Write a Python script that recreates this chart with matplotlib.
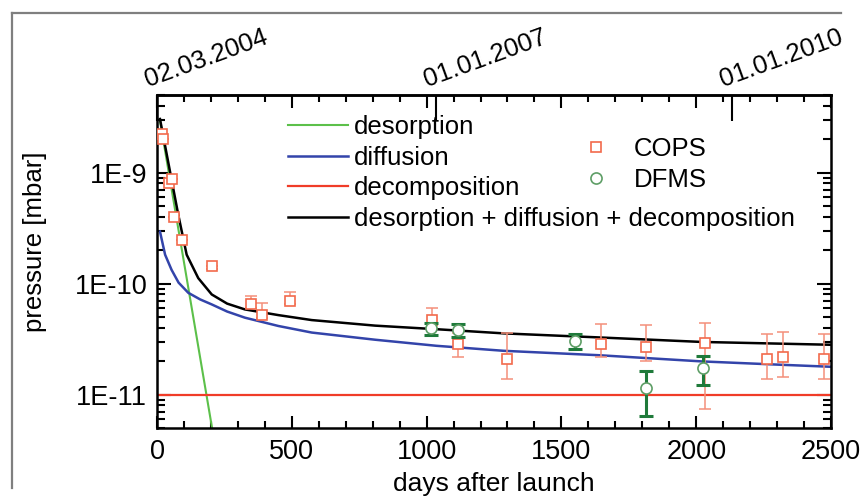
import matplotlib

matplotlib.use("Agg")

import matplotlib.pyplot as plt
import numpy as np
from matplotlib.lines import Line2D
from matplotlib.ticker import FixedLocator, LogLocator, MultipleLocator, NullFormatter

plt.rcParams["font.family"] = ["Liberation Sans", "DejaVu Sans"]

# model curves (days after launch, pressure in mbar)
desorption_days = [11, 215]
desorption_p = [2.94e-9, 3.5e-12]

diffusion_days = [11, 30, 54, 80, 116, 160, 203, 260, 326, 450, 574, 809, 1037, 1285, 1643, 2020, 2305, 2500]
diffusion_p = [2.94e-10, 1.82e-10, 1.33e-10, 1.02e-10, 8.26e-11, 7.2e-11, 6.49e-11, 5.6e-11, 4.93e-11,
               4.15e-11, 3.62e-11, 3.12e-11, 2.75e-11, 2.48e-11, 2.26e-11, 1.99e-11, 1.86e-11, 1.78e-11]

decomposition_days = [0, 2500]
decomposition_p = [1e-11, 1e-11]

total_days = [11, 40, 79, 110, 153, 203, 260, 326, 450, 574, 809, 1037, 1285, 1643, 2020, 2500]
total_p = [3.04e-9, 1.3e-9, 4.15e-10, 1.82e-10, 1.12e-10, 7.98e-11, 6.6e-11, 5.85e-11, 5.2e-11,
           4.69e-11, 4.18e-11, 3.88e-11, 3.56e-11, 3.27e-11, 2.98e-11, 2.81e-11]

# COPS measurements with error bar bounds
cops_days = [20, 22, 45, 54, 64, 92, 203, 349, 388, 493, 1019, 1115, 1299, 1647, 1813, 2033, 2261, 2323, 2475]
cops_p = [2.25e-9, 2.0e-9, 8.1e-10, 8.7e-10, 3.95e-10, 2.48e-10, 1.43e-10, 6.49e-11, 5.18e-11, 6.95e-11,
          4.67e-11, 2.84e-11, 2.09e-11, 2.88e-11, 2.69e-11, 2.94e-11, 2.09e-11, 2.16e-11, 2.09e-11]
cops_lo = [2.25e-9, 2.0e-9, 8.1e-10, 8.7e-10, 3.95e-10, 2.48e-10, 1.35e-10, 6.0e-11, 4.9e-11, 6.6e-11,
           4.2e-11, 2.16e-11, 1.38e-11, 2.19e-11, 1.99e-11, 7.35e-12, 1.38e-11, 1.45e-11, 1.38e-11]
cops_hi = [2.25e-9, 2.0e-9, 8.1e-10, 8.7e-10, 3.95e-10, 2.48e-10, 1.43e-10, 7.76e-11, 6.62e-11, 8.35e-11,
           5.97e-11, 3.6e-11, 3.56e-11, 4.36e-11, 4.21e-11, 4.45e-11, 3.55e-11, 3.64e-11, 3.55e-11]

# DFMS measurements with error bar bounds
dfms_days = [1016, 1115, 1550, 1813, 2026]
dfms_p = [3.96e-11, 3.79e-11, 3.04e-11, 1.15e-11, 1.73e-11]
dfms_lo = [3.44e-11, 3.3e-11, 2.56e-11, 6.41e-12, 1.23e-11]
dfms_hi = [4.45e-11, 4.3e-11, 3.55e-11, 1.64e-11, 2.23e-11]

date_days = [0, 1035, 2131]
date_labels = ["02.03.2004", "01.01.2007", "01.01.2010"]

y_ticks = [1e-11, 1e-10, 1e-9]
y_tick_labels = ["1E-11", "1E-10", "1E-9"]

FS = 18.5
TICK_FS = 19.5

fig = plt.figure(figsize=(8.67, 4.98), dpi=100)
ax = fig.add_axes([0.1811, 0.1406, 0.7774, 0.6686])

ax.plot(desorption_days, desorption_p, color="#5cc04a", lw=1.5, label="desorption", zorder=2)
ax.plot(diffusion_days, diffusion_p, color="#3344aa", lw=1.8, label="diffusion", zorder=2)
ax.plot(decomposition_days, decomposition_p, color="#f03c28", lw=1.6, label="decomposition", zorder=2)
ax.plot(total_days, total_p, color="black", lw=1.8,
        label="desorption + diffusion + decomposition", zorder=2)

cops_y = np.array(cops_p)
cops_err = [cops_y - np.array(cops_lo), np.array(cops_hi) - cops_y]
ax.errorbar(cops_days, cops_p, yerr=cops_err, fmt="none", ecolor="#f4907a", elinewidth=1.1,
            capsize=4.5, capthick=1.1, zorder=3)
cops_h, = ax.plot(cops_days, cops_p, ls="none", marker="s", ms=7.5, mfc="white", mec="#f26a4c",
                  mew=1.2, zorder=4, label="COPS")

dfms_y = np.array(dfms_p)
dfms_err = [dfms_y - np.array(dfms_lo), np.array(dfms_hi) - dfms_y]
ax.errorbar(dfms_days, dfms_p, yerr=dfms_err, fmt="none", ecolor="#1f7a3a", elinewidth=2.2,
            capsize=5, capthick=2.2, zorder=5)
dfms_h, = ax.plot(dfms_days, dfms_p, ls="none", marker="o", ms=8, mfc="white", mec="#5e9e66",
                  mew=1.2, zorder=6, label="DFMS")

ax.set_yscale("log")
ax.set_xlim(0, 2500)
ax.set_ylim(5e-12, 5e-9)

ax.xaxis.set_major_locator(MultipleLocator(500))
ax.xaxis.set_minor_locator(MultipleLocator(100))
ax.yaxis.set_major_locator(FixedLocator(y_ticks))
ax.yaxis.set_minor_locator(LogLocator(base=10, subs=np.arange(2, 10)))
ax.yaxis.set_minor_formatter(NullFormatter())
ax.set_yticks(y_ticks, y_tick_labels)

ax.tick_params(which="both", direction="in", top=True, right=True, width=1.5,
               labelsize=TICK_FS)
ax.tick_params(axis="x", which="major", length=9, pad=8)
ax.tick_params(axis="x", which="minor", length=5)
ax.tick_params(axis="y", which="major", length=10, pad=7)
ax.tick_params(axis="y", which="minor", length=6)
for spine in ax.spines.values():
    spine.set_linewidth(1.8)

# launch-date ticks on top
top = ax.secondary_xaxis("top")
top.set_xticks(date_days, ["", "", ""])
top.tick_params(direction="in", length=19, width=1.5)
top.xaxis.set_minor_locator(FixedLocator([]))
top.spines["top"].set_linewidth(1.8)
for day, label in zip(date_days, date_labels):
    ax.annotate(label, xy=(day, 1.0), xycoords=("data", "axes fraction"), xytext=(-9, 8),
                textcoords="offset pixels", rotation=20, rotation_mode="anchor",
                ha="left", va="baseline", fontsize=FS)

ax.set_xlabel("days after launch", fontsize=19, labelpad=5)
ax.set_ylabel("pressure [mbar]", fontsize=FS)
ax.yaxis.set_label_coords(-0.163, 0.56)

line_handles = ax.get_lines()[:4]
leg1 = ax.legend(handles=line_handles, loc="upper left", bbox_to_anchor=(0.194, 0.94),
                 frameon=False, fontsize=FS, handlelength=2.35, handletextpad=0.22,
                 labelspacing=0.26, borderpad=0, borderaxespad=0)
ax.add_artist(leg1)
ax.legend(handles=[cops_h, dfms_h], loc="upper left", bbox_to_anchor=(0.6365, 0.875),
          frameon=False, fontsize=FS, handlelength=0.8, handletextpad=1.05,
          labelspacing=0.3, borderpad=0, borderaxespad=0)

# grey frame lines around the figure (left and top edges only are visible)
frame_x = 11.5 / 867
frame_y = 1 - 13.5 / 498
fig.add_artist(Line2D([frame_x, frame_x], [0.02, frame_y], color="#7f7f7f", lw=1.6,
                      transform=fig.transFigure))
fig.add_artist(Line2D([frame_x, 0.97], [frame_y, frame_y], color="#7f7f7f", lw=1.6,
                      transform=fig.transFigure))

fig.savefig("out.png", dpi=100, facecolor="white")
